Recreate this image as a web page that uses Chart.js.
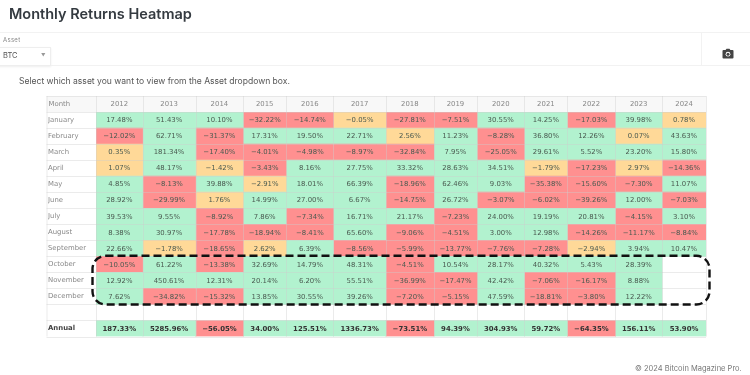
<!DOCTYPE html>
<html>
<head>
<meta charset="utf-8">
<script src="https://cdn.jsdelivr.net/npm/chart.js@4"></script>
<style>
    html, body { margin: 0; padding: 0; background: #fff; }
    body { position: relative; width: 750px; height: 375px; overflow: hidden; font-family: Inter, sans-serif; color: #495057; filter: blur(0.35px); }
    #chart_box { position: absolute; left: 0; top: 0; width: 750px; height: 375px; }
    .abs { position: absolute; white-space: nowrap; }
    #title { left: 9px; top: 5px; font-size: 14.5px; font-weight: 600; color: #343a40; }
    .rule { position: absolute; height: 1px; background: #f2f2f2; left: 0; right: 0; }
    #asset_label { left: 3px; top: 36px; font-size: 6px; color: #888; letter-spacing: 0.3px; }
    #asset_box { position: absolute; left: -2px; top: 47px; width: 52px; height: 17px; border: 1px solid #eee; border-left: none; box-shadow: 0 1px 2px #eee; }
    #asset_value { left: 3px; top: 51px; font-size: 7.5px; color: #555; }
    #asset_arrow { left: 41px; top: 53px; font-size: 4.5px; color: #999; }
    #note { left: 19px; top: 75.5px; font-size: 8.55px; color: #555; }
    #copyright { left: 635px; top: 364px; font-size: 7.5px; color: #777; }
    #camera { position: absolute; left: 722px; top: 48px; }
</style>
</head>
<body>
<div id="chart_box"><canvas id="heatmap"></canvas></div>
<div class="abs" id="title">Monthly Returns Heatmap</div>
<div class="rule" style="top:32px"></div>
<div class="rule" style="top:65px"></div>
<div style="position:absolute;left:701px;top:32px;width:1px;height:33px;background:#f2f2f2"></div>
<div class="abs" id="asset_label">Asset</div>
<div id="asset_box"></div>
<div class="abs" id="asset_value">BTC</div>
<div class="abs" id="asset_arrow">▼</div>
<svg id="camera" width="12" height="11" viewBox="0 0 12 11"><path fill="#444" d="M1.5 2H3.6L4.5 .8H7.5L8.4 2H10.5Q11.5 2 11.5 3V9.5Q11.5 10.5 10.5 10.5H1.5Q.5 10.5 .5 9.5V3Q.5 2 1.5 2Z"/><circle cx="6" cy="6.2" r="2.4" fill="#fff"/><circle cx="6" cy="6.2" r="1.5" fill="#444"/></svg>
<div class="abs" id="note">Select which asset you want to view from the Asset dropdown box.</div>
<div class="abs" id="copyright">© 2024 Bitcoin Magazine Pro.</div>
<script>
const years = ["2012", "2013", "2014", "2015", "2016", "2017", "2018", "2019", "2020", "2021", "2022", "2023", "2024"];
const months = ["January", "February", "March", "April", "May", "June", "July", "August", "September", "October", "November", "December"];
const rows = [...months, "", "Annual"];

const r2012 = [17.48, -12.02, 0.35, 1.07, 4.85, 28.92, 39.53, 8.38, 22.66, -10.05, 12.92, 7.62];
const r2013 = [51.43, 62.71, 181.34, 48.17, -8.13, -29.99, 9.55, 30.97, -1.78, 61.22, 450.61, -34.82];
const r2014 = [10.10, -31.37, -17.40, -1.42, 39.88, 1.76, -8.92, -17.78, -18.65, -13.38, 12.31, -15.32];
const r2015 = [-32.22, 17.31, -4.01, -3.43, -2.91, 14.99, 7.86, -18.94, 2.62, 32.69, 20.14, 13.85];
const r2016 = [-14.74, 19.50, -4.98, 8.16, 18.01, 27.00, -7.34, -8.41, 6.39, 14.79, 6.20, 30.55];
const r2017 = [-0.05, 22.71, -8.97, 27.75, 66.39, 6.67, 16.71, 65.60, -8.56, 48.31, 55.51, 39.26];
const r2018 = [-27.81, 2.56, -32.84, 33.32, -18.96, -14.75, 21.17, -9.06, -5.99, -4.51, -36.99, -7.20];
const r2019 = [-7.51, 11.23, 7.95, 28.63, 62.46, 26.72, -7.23, -4.51, -13.77, 10.54, -17.47, -5.15];
const r2020 = [30.55, -8.28, -25.05, 34.51, 9.03, -3.07, 24.00, 3.00, -7.76, 28.17, 42.42, 47.59];
const r2021 = [14.25, 36.80, 29.61, -1.79, -35.38, -6.02, 19.19, 12.98, -7.28, 40.32, -7.06, -18.81];
const r2022 = [-17.03, 12.26, 5.52, -17.23, -15.60, -39.26, 20.81, -14.26, -2.94, 5.43, -16.17, -3.80];
const r2023 = [39.98, 0.07, 23.20, 2.97, -7.30, 12.00, -4.15, -11.17, 3.94, 28.39, 8.88, 12.22];
const r2024 = [0.78, 43.63, 15.80, -14.36, 11.07, -7.03, 3.10, -8.84, 10.47, null, null, null];
const annual = [187.33, 5285.96, -56.05, 34.00, 125.51, 1336.73, -73.51, 94.39, 304.93, 59.72, -64.35, 156.11, 53.90];
const yearSeries = [r2012, r2013, r2014, r2015, r2016, r2017, r2018, r2019, r2020, r2021, r2022, r2023, r2024];

// layout only: the table columns are not equally wide
const colWidths = [46.6, 53, 47.7, 43, 47.3, 52.4, 48, 43.3, 47.3, 43, 48, 46.7, 44];
const colEdges = colWidths.reduce((acc, w) => [...acc, acc[acc.length - 1] + w], [0]);
const tableLeft = 46.5;
const headerHeight = 16;
const colors = { green: "#B2F2CF", red: "#FF9090", yellow: "#FFD998" };

const cellColor = (v) => (v === null ? "transparent" : v >= 3 ? colors.green : v <= -3 ? colors.red : colors.yellow);
const cellText = (v) => (v === null ? "" : (v < 0 ? "\u2212" : "") + Math.abs(v).toFixed(2) + "%");

const datasets = yearSeries.map((series, c) => {
    const values = [...series, null, annual[c]];
    return {
        label: years[c],
        values,
        data: values.map((v) => (v === null ? null : [colEdges[c], colEdges[c + 1]])),
        backgroundColor: values.map(cellColor),
        borderWidth: 0,
        barPercentage: 1,
        categoryPercentage: 1,
        grouped: false,
    };
});

const tablePlugin = {
    id: "table",
    // header band behind the year ticks
    beforeDraw(chart) {
        const { ctx, chartArea: a } = chart;
        ctx.save();
        ctx.fillStyle = "#F8F8F8";
        ctx.fillRect(tableLeft, a.top - headerHeight, a.right - tableLeft, headerHeight);
        ctx.restore();
    },
    afterDatasetsDraw(chart) {
        const { ctx, chartArea: a, scales: { x, y } } = chart;
        ctx.save();
        ctx.strokeStyle = "rgba(205,205,205,0.4)";
        ctx.lineWidth = 1;
        ctx.beginPath();
        colEdges.forEach((e) => {
            const px = Math.round(x.getPixelForValue(e)) + 0.5;
            ctx.moveTo(px, a.top - headerHeight);
            ctx.lineTo(px, a.bottom);
        });
        ctx.moveTo(tableLeft + 0.5, a.top - headerHeight);
        ctx.lineTo(tableLeft + 0.5, a.bottom);
        const step = (a.bottom - a.top) / rows.length;
        for (let i = -1; i <= rows.length; i++) {
            const py = Math.round(a.top + step * i) + 0.5;
            ctx.moveTo(tableLeft, py);
            ctx.lineTo(a.right, py);
        }
        ctx.stroke();

        // cell text
        ctx.textAlign = "center";
        ctx.textBaseline = "middle";
        chart.data.datasets.forEach((ds, d) => {
            chart.getDatasetMeta(d).data.forEach((bar, r) => {
                const v = ds.values[r];
                if (v === null) return;
                ctx.font = (rows[r] === "Annual" ? "bold " : "") + "6.9px 'DejaVu Sans'";
                ctx.fillStyle = rows[r] === "Annual" ? "#333" : "#4a5a50";
                ctx.fillText(cellText(v), (bar.base + bar.x) / 2, bar.y + 0.5);
            });
        });

        ctx.font = "6.9px 'DejaVu Sans'";
        ctx.fillStyle = "#888";
        ctx.textAlign = "left";
        ctx.fillText("Month", tableLeft + 2, a.top - 8);

        // dashed box round October to December
        const top = y.getPixelForValue(9) - step / 2 - 0.5;
        const bottom = y.getPixelForValue(11) + step / 2;
        ctx.beginPath();
        ctx.roundRect(a.left - 3.5, top, a.right - a.left + 7, bottom - top, 13);
        ctx.setLineDash([8, 4]);
        ctx.lineWidth = 2.4;
        ctx.strokeStyle = "#111";
        ctx.stroke();
        ctx.restore();
    },
};

new Chart(document.getElementById("heatmap"), {
    type: "bar",
    data: { labels: rows, datasets },
    plugins: [tablePlugin],
    options: {
        indexAxis: "y",
        responsive: true,
        maintainAspectRatio: false,
        animation: false,
        layout: {
            padding: { left: 48, right: 44, top: 96, bottom: 38.5 },
        },
        plugins: {
            legend: { display: false },
            tooltip: { enabled: false },
        },
        scales: {
            x: {
                type: "linear",
                position: "top",
                min: 0,
                max: colEdges[colEdges.length - 1],
                border: { display: false },
                grid: { display: false },
                afterFit(scale) { scale.height = headerHeight; },
                afterBuildTicks(scale) {
                    scale.ticks = years.map((_, c) => ({ value: (colEdges[c] + colEdges[c + 1]) / 2 }));
                },
                ticks: {
                    autoSkip: false,
                    maxRotation: 0,
                    padding: -4,
                    color: "#888",
                    font: { family: "'DejaVu Sans'", size: 6.9 },
                    callback: (value, i) => years[i],
                },
            },
            y: {
                type: "category",
                border: { display: false },
                grid: { display: false },
                afterFit(scale) { scale.width = 48; },
                ticks: {
                    autoSkip: false,
                    crossAlign: "far",
                    padding: 0,
                    color: (c) => (rows[c.index] === "Annual" ? "#444" : "#888"),
                    font: (c) => ({ family: "'DejaVu Sans'", size: 6.9, weight: rows[c.index] === "Annual" ? "bold" : "normal" }),
                },
            },
        },
    },
});
</script>
</body>
</html>
